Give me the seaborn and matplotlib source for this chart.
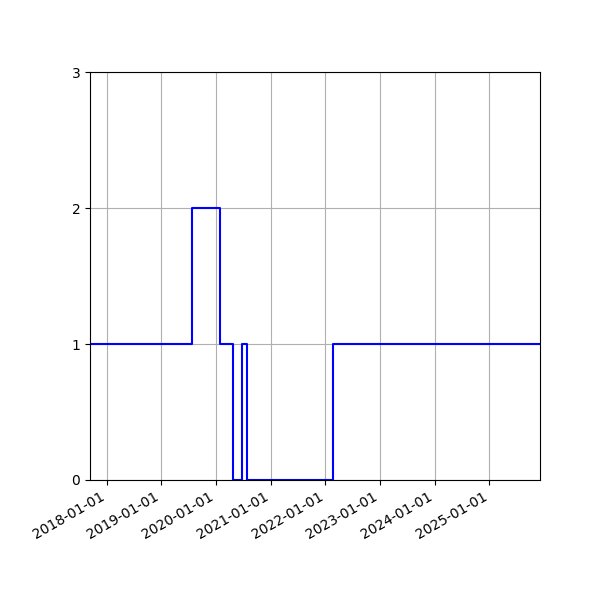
import matplotlib
matplotlib.use('Agg')
import matplotlib.pyplot as plt
import matplotlib.dates as mdates
import pandas as pd
import seaborn as sns

# step changes (value holds until next date)
dates = ['2017-09-11', '2019-07-23', '2020-01-26', '2020-04-22',
         '2020-06-22', '2020-07-29', '2022-02-18', '2025-12-05']
values = [1, 2, 1, 0, 1, 0, 1, 1]

data = pd.DataFrame({'date': pd.to_datetime(dates), 'value': values})

fig, ax = plt.subplots(figsize=(6, 6), dpi=100)
sns.lineplot(x='date', y='value', data=data, ax=ax, color='blue',
             drawstyle='steps-post', linewidth=1.5)

ax.set_xlim(data['date'].min(), data['date'].max())
ax.set_ylim(0, 3)
ax.set_yticks([0, 1, 2, 3])
ax.xaxis.set_major_locator(mdates.YearLocator())
ax.xaxis.set_major_formatter(mdates.DateFormatter('%Y-%m-%d'))
ax.set_xlabel('')
ax.set_ylabel('')
ax.grid(True)

fig.autofmt_xdate()
fig.subplots_adjust(left=0.15, right=0.9, top=0.88, bottom=0.2)
fig.savefig('out.png')
